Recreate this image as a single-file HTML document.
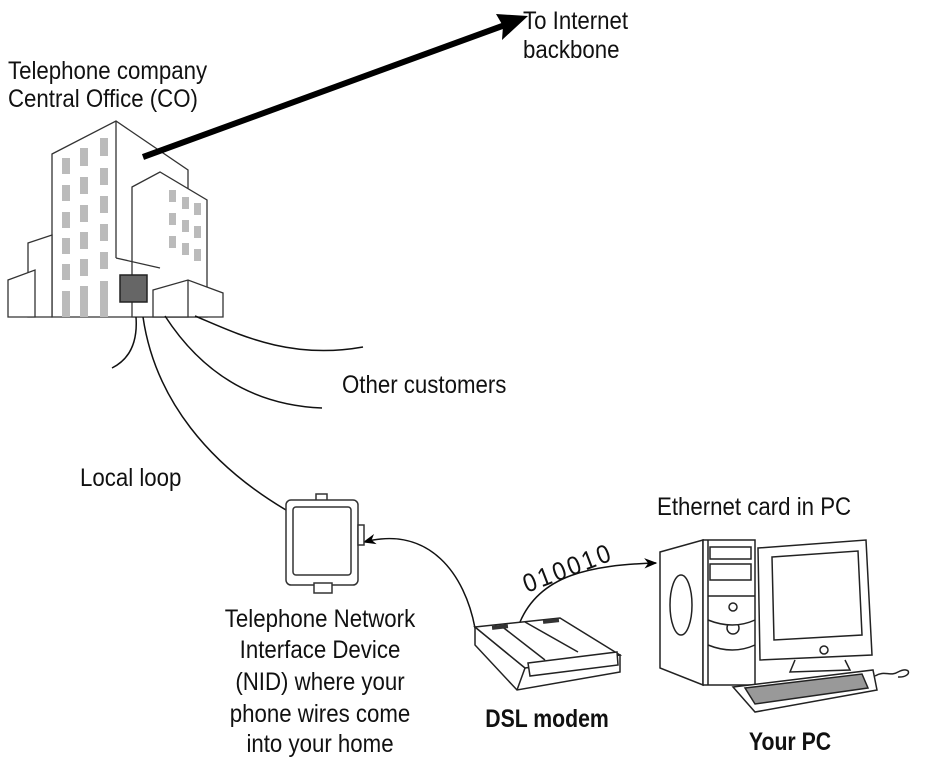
<!DOCTYPE html>
<html><head><meta charset="utf-8"><style>
html,body{margin:0;padding:0;background:#fff;}
svg{display:block}
text{font-family:"Liberation Sans",sans-serif;font-size:25px;fill:#111;}
.b{font-weight:bold}
</style></head><body>
<svg width="928" height="763" viewBox="0 0 928 763">
<defs>
<marker id="ah" viewBox="0 0 10 10" refX="9" refY="5" markerWidth="13" markerHeight="13" orient="auto" markerUnits="userSpaceOnUse"><path d="M0,1 L10,5 L0,9 L3,5Z" fill="#000"/></marker>
</defs>
<text transform="translate(523,29) scale(0.89,1)">To Internet</text>
<text transform="translate(523,58) scale(0.89,1)">backbone</text>
<text transform="translate(8,79) scale(0.89,1)">Telephone company</text>
<text transform="translate(8,107) scale(0.89,1)">Central Office (CO)</text>
<text transform="translate(342,393) scale(0.89,1)">Other customers</text>
<text transform="translate(80,486) scale(0.89,1)">Local loop</text>
<text transform="translate(657,515) scale(0.89,1)">Ethernet card in PC</text>
<g text-anchor="middle">
<text transform="translate(320,627) scale(0.89,1)">Telephone Network</text>
<text transform="translate(320,658) scale(0.89,1)">Interface Device</text>
<text transform="translate(320,690) scale(0.89,1)">(NID) where your</text>
<text transform="translate(320,722) scale(0.89,1)">phone wires come</text>
<text transform="translate(320,752) scale(0.89,1)">into your home</text>
<text class="b" transform="translate(547,727) scale(0.85,1)">DSL modem</text>
<text class="b" transform="translate(790,750) scale(0.85,1)">Your PC</text>
</g>
<text x="0" y="0" transform="translate(527,593) rotate(-21) scale(0.9,1)" style="font-size:26px;letter-spacing:3px">010010</text>

<!-- building -->
<g fill="#fff" stroke="#333" stroke-width="1.3">
<polygon points="52,154 116,121 188,170 188,317 52,317"/>
<line x1="116" y1="121" x2="116" y2="258"/>
<polygon points="132,187 160,172 207,200 207,317 132,317"/>
<polygon points="28,243 52,235 52,317 28,317"/>
<polygon points="8,280 35,270 35,317 8,317"/>
<polygon points="153,290 188,280 223,293 223,317 153,317"/>
<line x1="188" y1="280" x2="188" y2="317"/>
<line x1="116" y1="258" x2="160" y2="268"/>
</g>
<g fill="#bbb">
<rect x="62" y="158" width="8" height="16"/><rect x="80" y="148" width="8" height="18"/><rect x="100" y="138" width="8" height="18"/>
<rect x="62" y="185" width="8" height="16"/><rect x="80" y="177" width="8" height="17"/><rect x="100" y="168" width="8" height="17"/>
<rect x="62" y="212" width="8" height="16"/><rect x="80" y="205" width="8" height="17"/><rect x="100" y="196" width="8" height="17"/>
<rect x="62" y="238" width="8" height="16"/><rect x="80" y="232" width="8" height="17"/><rect x="100" y="224" width="8" height="17"/>
<rect x="62" y="264" width="8" height="16"/><rect x="80" y="259" width="8" height="17"/><rect x="100" y="252" width="8" height="17"/>
<rect x="62" y="291" width="8" height="26"/><rect x="80" y="286" width="8" height="31"/><rect x="100" y="281" width="8" height="36"/>
<rect x="169" y="190" width="7" height="12"/><rect x="182" y="197" width="7" height="12"/><rect x="194" y="203" width="7" height="12"/>
<rect x="169" y="213" width="7" height="12"/><rect x="182" y="220" width="7" height="12"/><rect x="194" y="226" width="7" height="12"/>
<rect x="169" y="236" width="7" height="12"/><rect x="182" y="243" width="7" height="12"/><rect x="194" y="249" width="7" height="12"/>
</g>
<rect x="120" y="275" width="27" height="27" fill="#666" stroke="#222" stroke-width="1.5"/>
<!-- backbone arrow -->
<line x1="143" y1="157" x2="505" y2="25" stroke="#000" stroke-width="6"/>
<path d="M528,16 L496,14 L503,26 L502,40Z" fill="#000"/>
<!-- wires -->
<g fill="none" stroke="#111" stroke-width="1.5">
<path d="M136,317 C138,345 128,360 112,368"/>
<path d="M143,317 C155,400 210,465 286,510"/>
<path d="M165,316 C200,370 250,405 322,408"/>
<path d="M195,316 C240,335 290,360 363,347"/>
<path d="M475,628 C465,575 430,525 364,542" marker-end="url(#ah)"/>
<path d="M520,622 C540,575 590,565 656,563" marker-end="url(#ah)"/>
</g>
<!-- NID -->
<g fill="#fff" stroke="#333" stroke-width="1.5">
<rect x="316" y="494" width="11" height="7"/>
<rect x="286" y="500" width="72" height="85" rx="5"/>
<rect x="293" y="507" width="58" height="68" rx="3"/>
<rect x="314" y="583" width="18" height="10"/>
<rect x="358" y="525" width="6" height="20"/>
</g>
<!-- modem -->
<g fill="#fff" stroke="#222" stroke-width="1.5">
<polygon points="475,627 475,645 517,690 620,672 620,655 525,668"/>
<polygon points="475,627 560,618 620,655 525,668"/>
<line x1="525" y1="668" x2="517" y2="690"/>
<polygon points="528,663 617,652 618,665 530,676"/>
<line x1="500" y1="625" x2="545" y2="660"/>
<line x1="525" y1="622" x2="578" y2="652"/>
</g>
<rect x="492" y="625" width="16" height="4" fill="#333" transform="rotate(-6 500 627)"/>
<rect x="543" y="619" width="16" height="4" fill="#333" transform="rotate(-6 551 621)"/>
<!-- PC -->
<g fill="#fff" stroke="#222" stroke-width="1.5">
<polygon points="660,552 703,540 703,685 660,668"/>
<ellipse cx="681" cy="605" rx="11" ry="30"/>
<rect x="703" y="540" width="52" height="145"/>
<line x1="708" y1="540" x2="708" y2="685"/>
<rect x="710" y="547" width="41" height="12"/>
<rect x="710" y="564" width="41" height="16"/>
<line x1="708" y1="596" x2="755" y2="596"/>
<circle cx="733" cy="607" r="4"/>
<circle cx="733" cy="628" r="6"/>
<path d="M708,620 Q733,630 755,620"/>
<path d="M708,645 Q733,655 755,645"/>
<polygon points="758,548 866,540 872,655 760,660"/>
<polygon points="772,557 858,551 862,635 774,640"/>
<circle cx="824" cy="650" r="4"/>
<path d="M795,660 L790,672 L850,670 L845,660"/>
<polygon points="733,687 873,670 877,690 755,712"/>
<polygon points="745,688 862,674 868,688 755,704" fill="#999"/>
<path d="M875,676 C885,670 890,677 898,672 C912,665 912,678 898,677"/>
</g>
</svg>
</body></html>
